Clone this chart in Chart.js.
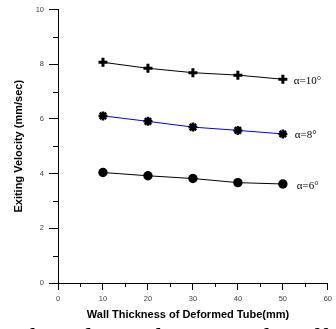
<!DOCTYPE html>
<html>
<head>
<meta charset="utf-8">
<script src="https://cdn.jsdelivr.net/npm/chart.js@4.4.1/dist/chart.umd.min.js"></script>
<style>
  html, body { margin: 0; padding: 0; background: #fff; }
  body { width: 336px; height: 329px; overflow: hidden; position: relative; }
  #wrap { position: absolute; left: 0; top: 0; width: 336px; height: 329px; }
  #caption { position: absolute; left: 13px; top: 324px; font: 28px "Liberation Serif", serif; line-height: 28px; white-space: nowrap; color: #000; }
</style>
</head>
<body>
<div id="wrap"><canvas id="chart" width="336" height="329"></canvas></div>
<div id="caption">The relation between the effect of</div>
<script>
// data
const wallThickness = [10, 20, 30, 40, 50];
const velAlpha10 = [8.07, 7.85, 7.69, 7.6, 7.45];
const velAlpha8 = [6.11, 5.91, 5.7, 5.58, 5.45];
const velAlpha6 = [4.04, 3.92, 3.82, 3.67, 3.62];
const seriesLabels = ['\u03b1=10\u00b0', '\u03b1=8\u00b0', '\u03b1=6\u00b0'];
const xTitle = 'Wall Thickness of Deformed Tube(mm)';
const yTitle = 'Exiting Velocity (mm/sec)';

const pts = ys => wallThickness.map((x, i) => ({ x: x, y: ys[i] }));

// minor ticks + axis titles + series labels
const extras = {
  id: 'extras',
  afterDraw(chart) {
    const ctx = chart.ctx;
    const xs = chart.scales.x, ys = chart.scales.y;
    const area = chart.chartArea;
    ctx.save();
    ctx.strokeStyle = '#000';
    ctx.lineWidth = 1;
    ctx.beginPath();
    for (let v = 1; v < 10; v += 2) {
      const py = Math.round(ys.getPixelForValue(v)) + 0.5;
      ctx.moveTo(area.left - 5, py);
      ctx.lineTo(area.left, py);
    }
    for (let v = 5; v < 60; v += 10) {
      const px = Math.round(xs.getPixelForValue(v)) + 0.5;
      ctx.moveTo(px, area.bottom);
      ctx.lineTo(px, area.bottom + 4);
    }
    ctx.stroke();

    ctx.fillStyle = '#000';
    ctx.font = 'bold 11px "Liberation Sans", Arial, sans-serif';
    ctx.textAlign = 'center';
    ctx.textBaseline = 'middle';
    ctx.fillText(xTitle, 188, 315);
    ctx.save();
    ctx.translate(19, (area.top + area.bottom) / 2);
    ctx.rotate(-Math.PI / 2);
    ctx.fillText(yTitle, 0, 0);
    ctx.restore();

    ctx.font = '11px "Liberation Serif", "Times New Roman", serif';
    ctx.textAlign = 'left';
    const dx = [11, 12, 14];
    const dy = [2, 1, 2];
    chart.data.datasets.forEach((ds, i) => {
      const last = ds.data[ds.data.length - 1];
      ctx.fillText(seriesLabels[i], xs.getPixelForValue(last.x) + dx[i], ys.getPixelForValue(last.y) + dy[i]);
    });
    ctx.restore();
  }
};

new Chart(document.getElementById('chart'), {
  type: 'line',
  data: {
    datasets: [
      { label: seriesLabels[0], data: pts(velAlpha10), borderColor: '#000', borderWidth: 1,
        pointStyle: 'cross', pointRadius: 4.5, pointBorderWidth: 3, pointBorderColor: '#000', pointBackgroundColor: '#000' },
      { label: seriesLabels[1], data: pts(velAlpha8), borderColor: '#0000ff', borderWidth: 1,
        pointStyle: 'star', pointRadius: 4.5, pointBorderWidth: 2.5, pointBorderColor: '#000', pointBackgroundColor: '#000' },
      { label: seriesLabels[2], data: pts(velAlpha6), borderColor: '#000', borderWidth: 1,
        pointStyle: 'circle', pointRadius: 4.7, pointBorderWidth: 0, pointBorderColor: '#000', pointBackgroundColor: '#000' }
    ]
  },
  options: {
    responsive: false,
    animation: false,
    layout: { padding: { top: 4, right: 0, left: 0, bottom: 0 } },
    plugins: { legend: { display: false }, tooltip: { enabled: false } },
    scales: {
      x: {
        type: 'linear', min: 0, max: 60,
        afterFit: s => { s.height = 46; },
        ticks: { stepSize: 10, padding: 4, color: '#444', font: { size: 7.5, family: '"Liberation Sans", Arial, sans-serif' } },
        grid: { drawOnChartArea: false, drawTicks: true, tickLength: 7, tickColor: '#000' },
        border: { display: true, color: '#000', width: 1 }
      },
      y: {
        type: 'linear', min: 0, max: 10,
        afterFit: s => { s.width = 58; },
        ticks: { stepSize: 2, padding: 5, color: '#444', font: { size: 7.5, family: '"Liberation Sans", Arial, sans-serif' } },
        grid: { drawOnChartArea: false, drawTicks: true, tickLength: 9, tickColor: '#000' },
        border: { display: true, color: '#000', width: 1 }
      }
    }
  },
  plugins: [extras]
});
</script>
</body>
</html>
